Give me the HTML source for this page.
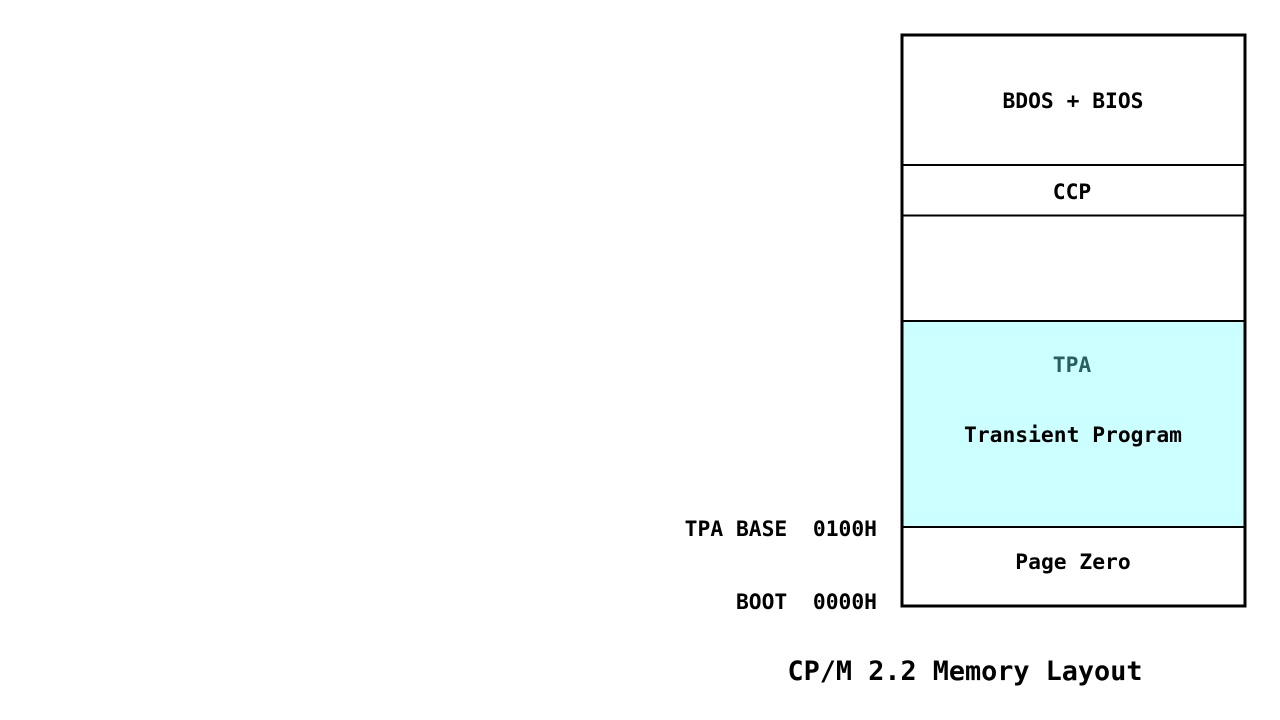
<!DOCTYPE html>
<html><head><meta charset="utf-8"><style>html,body{margin:0;padding:0;background:#fff}svg{display:block}text{white-space:pre}</style></head>
<body>
<svg width="1280" height="720" xmlns="http://www.w3.org/2000/svg" font-family="'DejaVu Sans Mono','Liberation Mono',monospace" font-weight="bold" xml:space="preserve">
<rect x="902" y="321" width="343" height="206" fill="#ccffff"/>
<g stroke="#000" stroke-width="2">
<line x1="902" y1="165" x2="1245" y2="165"/>
<line x1="902" y1="215.5" x2="1245" y2="215.5"/>
<line x1="902" y1="321" x2="1245" y2="321"/>
<line x1="902" y1="527" x2="1245" y2="527"/>
</g>
<rect x="902" y="35" width="343" height="571" fill="none" stroke="#000" stroke-width="3"/>
<g font-size="21.3" text-anchor="middle" fill="#000">
<text x="1073" y="108">BDOS + BIOS</text>
<text x="1072" y="199">CCP</text>
<text x="1072" y="372" fill="#2a5f5f">TPA</text>
<text x="1073" y="442">Transient Program</text>
<text x="1073" y="569">Page Zero</text>
</g>
<g font-size="21.3" text-anchor="end" fill="#000">
<text x="877" y="536">TPA BASE  0100H</text>
<text x="877" y="609">BOOT  0000H</text>
</g>
<text x="965" y="680" font-size="26.8" text-anchor="middle" fill="#000">CP/M 2.2 Memory Layout</text>
</svg>
</body></html>
